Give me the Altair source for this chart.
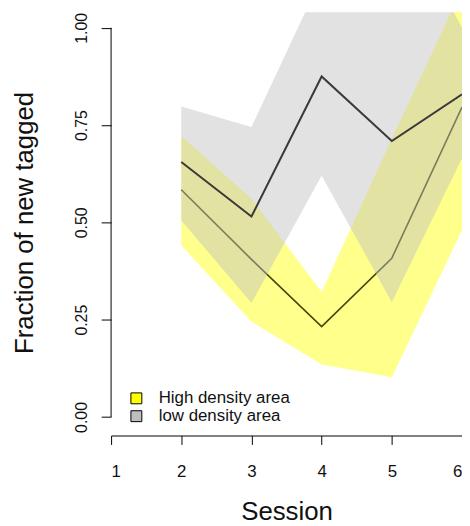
import altair as alt
import pandas as pd

sessions = [2, 3, 4, 5, 6]
high_mean = [0.584, 0.405, 0.232, 0.408, 0.796]
high_lower = [0.441, 0.245, 0.135, 0.102, 0.48]
high_upper = [0.722, 0.561, 0.321, 0.715, 1.10]
low_mean = [0.655, 0.515, 0.875, 0.709, 0.829]
low_lower = [0.505, 0.293, 0.62, 0.295, 0.665]
low_upper = [0.798, 0.745, 1.13, 1.35, 1.00]
series_names = ["High density area", "low density area"]
x_ticks = [1, 2, 3, 4, 5, 6]
y_ticks = [0, 0.25, 0.5, 0.75, 1.0]

rows = []
for i, s in enumerate(sessions):
    rows.append({"series": series_names[0], "session": s, "mean": high_mean[i],
                 "lower": high_lower[i], "upper": high_upper[i]})
    rows.append({"series": series_names[1], "session": s, "mean": low_mean[i],
                 "lower": low_lower[i], "upper": low_upper[i]})
df = pd.DataFrame(rows)

FONT = "Liberation Sans"

xs = alt.Scale(domain=[1, 6], nice=False, zero=False)
ys = alt.Scale(domain=[-0.04, 1.04], nice=False, zero=False)

x_enc = alt.X("session:Q", scale=xs, axis=alt.Axis(
    values=x_ticks, format="d", offset=3, tickSize=9, grid=False,
    labelFontSize=17, labelBaseline="alphabetic", labelPadding=32,
    labelColor="#111", labelFont=FONT,
    title="Session", titleFontSize=26, titleFont=FONT, titleFontWeight="normal",
    titleY=85, titleBaseline="alphabetic", titleColor="#111",
    domainColor="#000", tickColor="#000"))

y_axis = alt.Axis(
    values=y_ticks, format=".2f", domain=False, tickSize=10, grid=False,
    labelAngle=270, labelAlign="center", labelBaseline="alphabetic",
    labelPadding=15, labelFontSize=16, labelColor="#111", labelFont=FONT,
    title="Fraction of new tagged", titleFontSize=26, titleFont=FONT,
    titleFontWeight="normal", titleAngle=270, titleX=-79, titleY=212,
    titleAlign="center", titleBaseline="alphabetic", titleColor="#111",
    tickColor="#000")

color = alt.Color("series:N", scale=alt.Scale(domain=series_names,
                                              range=["#FFFF00", "#BEBEBE"]),
                  legend=alt.Legend(title=None, orient="none", legendX=17, legendY=381,
                                    symbolType="square", symbolSize=121,
                                    symbolStrokeColor="#000", symbolStrokeWidth=1,
                                    symbolOpacity=1, labelFontSize=17, labelFont=FONT,
                                    labelColor="#111", labelOffset=14, rowPadding=0,
                                    padding=0))

base = alt.Chart(df)

def band(name):
    return base.transform_filter(alt.datum.series == name).mark_area(
        opacity=0.45, clip=True).encode(
        x=x_enc, y=alt.Y("lower:Q", scale=ys, axis=y_axis), y2="upper:Q", fill=color)

def line(name, col, w):
    return base.transform_filter(alt.datum.series == name).mark_line(
        color=col, strokeWidth=w, clip=True).encode(
        x=x_enc, y=alt.Y("mean:Q", scale=ys, axis=y_axis))

yaxis_line = alt.Chart(pd.DataFrame({"a": [y_ticks[0]], "b": [y_ticks[-1]]})).mark_rule(
    color="#000", strokeWidth=1).encode(
    x=alt.value(0), y=alt.Y("a:Q", scale=ys, axis=y_axis), y2="b:Q")

chart = alt.layer(
    band(series_names[0]),
    line(series_names[0], "#45450a", 1.6),
    band(series_names[1]),
    line(series_names[1], "#3a3a3a", 2.0),
    yaxis_line,
).properties(
    width=354, height=424,
    autosize=alt.AutoSizeParams(type="none"),
    padding={"left": 104, "top": 2, "right": 0, "bottom": 92},
    background="white",
).configure_view(stroke=None)

chart.save("out.html", embed_options={"renderer": "svg", "actions": False})
